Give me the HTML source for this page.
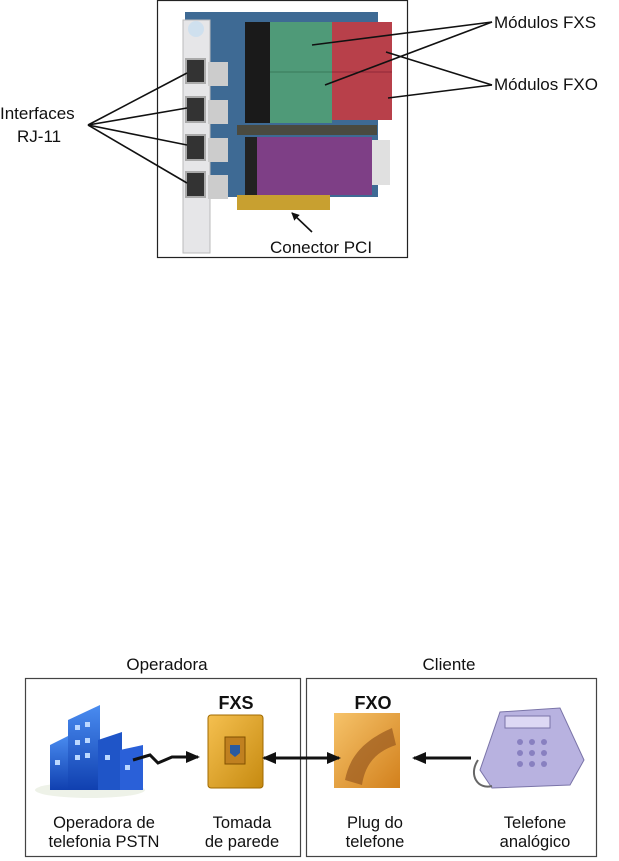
<!DOCTYPE html>
<html><head><meta charset="utf-8"><style>
html,body{margin:0;padding:0;background:#fff;}
svg{display:block;font-family:"Liberation Sans",Arial,sans-serif;}
</style></head><body>
<svg width="619" height="861" viewBox="0 0 619 861" xmlns="http://www.w3.org/2000/svg">
<defs>
<marker id="ah" markerWidth="8" markerHeight="8" refX="7" refY="4" orient="auto" markerUnits="userSpaceOnUse"><path d="M0,0 L8,4 L0,8 z" fill="#111"/></marker>
<marker id="ab" markerWidth="14" markerHeight="12" refX="12" refY="6" orient="auto" markerUnits="userSpaceOnUse"><path d="M0,0 L14,6 L0,12 z" fill="#111"/></marker>
<marker id="abs" markerWidth="14" markerHeight="12" refX="2" refY="6" orient="auto" markerUnits="userSpaceOnUse"><path d="M14,0 L0,6 L14,12 z" fill="#111"/></marker>
<linearGradient id="gold" x1="0" y1="0" x2="1" y2="1"><stop offset="0" stop-color="#f5c050"/><stop offset="1" stop-color="#c68a10"/></linearGradient>
<linearGradient id="hand" x1="0" y1="0" x2="1" y2="1"><stop offset="0" stop-color="#f6c36a"/><stop offset="1" stop-color="#d2801c"/></linearGradient>
<linearGradient id="bld" x1="0" y1="0" x2="0" y2="1"><stop offset="0" stop-color="#4a8cf0"/><stop offset="1" stop-color="#1040b0"/></linearGradient>
</defs>

<!-- top photo frame -->
<rect x="157.5" y="0.5" width="250" height="257" fill="#fff" stroke="#222" stroke-width="1.2"/>
<!-- board -->
<rect x="185" y="12" width="193" height="185" fill="#3e6a94"/>
<rect x="183" y="20" width="27" height="233" fill="#e6e6e8" stroke="#bbb"/>
<rect x="245" y="22" width="25" height="101" fill="#1a1a1a"/>
<rect x="270" y="22" width="62" height="101" fill="#4f9a78"/>
<line x1="270" y1="72" x2="332" y2="72" stroke="#3a7a5a"/>
<rect x="332" y="22" width="60" height="98" fill="#b8404a"/>
<line x1="332" y1="72" x2="392" y2="72" stroke="#902838"/>
<rect x="237" y="125" width="140" height="10" fill="#4a4a40"/>
<rect x="255" y="137" width="117" height="58" fill="#7e3f86"/>
<rect x="245" y="137" width="12" height="58" fill="#222"/>
<rect x="372" y="140" width="18" height="45" fill="#e0e0e0"/>
<rect x="237" y="195" width="93" height="15" fill="#c8a030"/>
<g fill="#ccc"><rect x="208" y="62" width="20" height="24"/><rect x="208" y="100" width="20" height="24"/><rect x="208" y="138" width="20" height="24"/><rect x="208" y="175" width="20" height="24"/></g>
<g fill="#333" stroke="#aaa" stroke-width="2"><rect x="186" y="59" width="19" height="24"/><rect x="186" y="97" width="19" height="25"/><rect x="186" y="135" width="19" height="25"/><rect x="186" y="172" width="19" height="25"/></g>
<circle cx="196" cy="29" r="8" fill="#cfe0ee"/>

<!-- top labels & lines -->
<g stroke="#111" stroke-width="1.6" fill="none">
<line x1="88" y1="125" x2="187" y2="73"/>
<line x1="88" y1="125" x2="187" y2="108"/>
<line x1="88" y1="125" x2="187" y2="145"/>
<line x1="88" y1="125" x2="187" y2="183"/>
<line x1="492" y1="22" x2="312" y2="45"/>
<line x1="492" y1="22" x2="325" y2="85"/>
<line x1="492" y1="85" x2="386" y2="52"/>
<line x1="492" y1="85" x2="388" y2="98"/>
<line x1="312" y1="232" x2="292" y2="213" marker-end="url(#ah)"/>
</g>
<g font-size="17" fill="#111">
<text x="494" y="28">Módulos FXS</text>
<text x="494" y="90">Módulos FXO</text>
<text x="0" y="119">Interfaces</text>
<text x="17" y="142">RJ-11</text>
<text x="270" y="253">Conector PCI</text>
</g>

<!-- bottom diagram -->
<g font-size="17" fill="#111">
<text x="167" y="670" text-anchor="middle">Operadora</text>
<text x="449" y="670" text-anchor="middle">Cliente</text>
</g>
<rect x="25.5" y="678.5" width="275" height="178" fill="none" stroke="#444" stroke-width="1.2"/>
<rect x="306.5" y="678.5" width="290" height="178" fill="none" stroke="#444" stroke-width="1.2"/>
<g font-size="18" font-weight="bold" fill="#111">
<text x="236" y="709" text-anchor="middle">FXS</text>
<text x="373" y="709" text-anchor="middle">FXO</text>
</g>
<!-- building -->
<ellipse cx="90" cy="790" rx="55" ry="8" fill="#eef2e8"/>
<polygon points="50,745 70,735 70,790 50,790" fill="url(#bld)"/>
<polygon points="68,720 100,705 100,790 68,790" fill="url(#bld)"/>
<polygon points="98,740 122,732 122,790 98,790" fill="#1f55c8"/>
<polygon points="120,750 143,745 143,790 120,790" fill="#2a60d8"/>
<g fill="#bcd8ff"><rect x="75" y="725" width="5" height="5"/><rect x="85" y="722" width="5" height="5"/><rect x="75" y="740" width="5" height="5"/><rect x="85" y="738" width="5" height="5"/><rect x="75" y="755" width="5" height="5"/><rect x="85" y="753" width="5" height="5"/><rect x="55" y="760" width="5" height="5"/><rect x="105" y="755" width="5" height="5"/><rect x="125" y="765" width="5" height="5"/></g>
<!-- wall plate -->
<rect x="208" y="715" width="55" height="73" rx="3" fill="url(#gold)" stroke="#a06a00"/>
<rect x="225" y="737" width="20" height="27" fill="#c08020" stroke="#805000"/>
<path d="M230,745 h10 v8 l-5,4 l-5,-4z" fill="#2a5aa0"/>
<!-- hand plug -->
<rect x="334" y="713" width="66" height="75" fill="url(#hand)"/>
<path d="M345,780 C350,755 365,740 392,728 L396,745 C375,752 365,765 362,785z" fill="#9a5a20" opacity="0.7"/>
<!-- phone -->
<path d="M480,770 L500,712 L560,708 L584,760 L570,785 L492,788z" fill="#b8b2e0" stroke="#7a74a8"/>
<rect x="505" y="716" width="45" height="12" fill="#ddd8f4" stroke="#7a74a8"/>
<path d="M478,760 C468,775 478,790 492,786" fill="none" stroke="#666" stroke-width="2"/>
<g fill="#8880c0"><circle cx="520" cy="742" r="3"/><circle cx="532" cy="742" r="3"/><circle cx="544" cy="742" r="3"/><circle cx="520" cy="753" r="3"/><circle cx="532" cy="753" r="3"/><circle cx="544" cy="753" r="3"/><circle cx="520" cy="764" r="3"/><circle cx="532" cy="764" r="3"/><circle cx="544" cy="764" r="3"/></g>
<!-- arrows -->
<g stroke="#111" stroke-width="3" fill="none">
<polyline points="133,760 150,755 158,763 172,757 198,757" marker-end="url(#ab)"/>
<line x1="264" y1="758" x2="339" y2="758" marker-start="url(#abs)" marker-end="url(#ab)"/>
<line x1="471" y1="758" x2="414" y2="758" marker-end="url(#ab)"/>
</g>
<g font-size="16.5" fill="#111" text-anchor="middle">
<text x="104" y="828">Operadora de</text><text x="104" y="847">telefonia PSTN</text>
<text x="242" y="828">Tomada</text><text x="242" y="847">de parede</text>
<text x="375" y="828">Plug do</text><text x="375" y="847">telefone</text>
<text x="535" y="828">Telefone</text><text x="535" y="847">analógico</text>
</g>
</svg>
</body></html>
